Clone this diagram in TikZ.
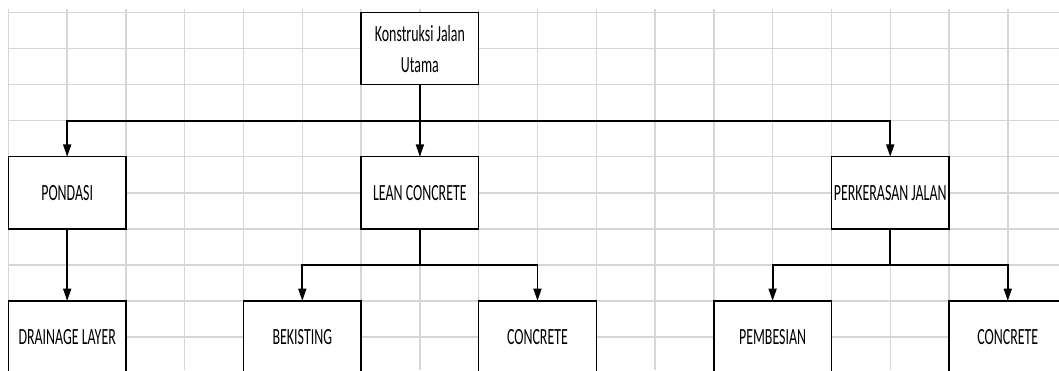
\documentclass[tikz,border=0pt]{standalone}
\usepackage{fontspec}
\setmainfont{Carlito}[FakeStretch=0.6]
\usetikzlibrary{arrows.meta, positioning, calc}

\begin{document}
\begin{tikzpicture}[
    x=0.02cm, y=-0.02cm,
    node distance=1.442cm,
    box/.style={rectangle, draw, fill=white, line width=0.8pt, outer sep=0pt, inner sep=0pt, minimum width=2.352cm, minimum height=1.442cm, align=center, font=\fontsize{13.2}{17.6}\selectfont},
    arrow/.style={-{Triangle[length=7pt, width=4.5pt]}, line width=1.1pt},
    link/.style={line width=1.1pt},
    gridline/.style={black!16, line width=0.8pt}
]
\useasboundingbox (0,0) rectangle (1059,370);
\clip (0,0) rectangle (1059,370);
% sheet grid
\foreach \r in {0,...,9}
    \draw[gridline] (8.3,12.5+36.06*\r) -- (1059,12.5+36.06*\r);
\foreach \c in {0,...,17}
    \draw[gridline] (8.3+58.8*\c,9.3) -- (8.3+58.8*\c,370);
% boxes
\node[box] (root) at (419.9,48.6) {Konstruksi Jalan\\Utama};
\node[box, below=of root] (lean) {LEAN CONCRETE};
\node[box, left=4.704cm of lean] (pondasi) {PONDASI};
\node[box, right=7.056cm of lean] (perkerasan) {PERKERASAN JALAN};
\node[box, below=of pondasi] (drainage) {DRAINAGE LAYER};
\node[box, below=of lean, xshift=-2.352cm] (bekisting) {BEKISTING};
\node[box, below=of lean, xshift=2.352cm] (concrete1) {CONCRETE};
\node[box, below=of perkerasan, xshift=-2.352cm] (pembesian) {PEMBESIAN};
\node[box, below=of perkerasan, xshift=2.352cm] (concrete2) {CONCRETE};
% connectors
\coordinate[below=0.721cm of root.south] (bus1);
\coordinate[below=0.721cm of lean.south] (bus2);
\coordinate[below=0.721cm of perkerasan.south] (bus3);
\draw[arrow] (root) -- (lean);
\draw[arrow] (bus1) -| (pondasi);
\draw[arrow] (bus1) -| (perkerasan);
\draw[arrow] (pondasi) -- (drainage);
\draw[link] (lean) -- (bus2);
\draw[arrow] (bus2) -| (bekisting);
\draw[arrow] (bus2) -| (concrete1);
\draw[link] (perkerasan) -- (bus3);
\draw[arrow] (bus3) -| (pembesian);
\draw[arrow] (bus3) -| (concrete2);
\end{tikzpicture}
\end{document}
